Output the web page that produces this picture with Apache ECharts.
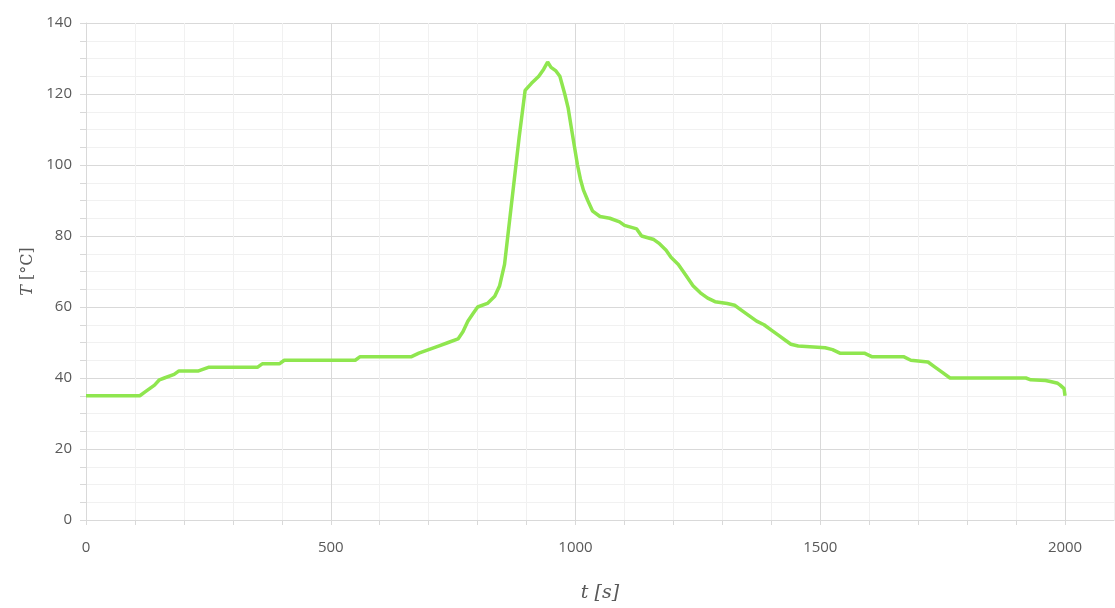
<!DOCTYPE html>
<html>
<head>
<meta charset="utf-8">
<script src="https://cdn.jsdelivr.net/npm/echarts@6/dist/echarts.min.js"></script>
<style>
  html, body { margin: 0; padding: 0; background: #fff; }
  #chart { width: 1115px; height: 608px; }
</style>
</head>
<body>
<div id="chart"></div>
<script>
// time [s]
var times = [
  0, 110, 120, 140, 150, 160, 180, 190, 230, 250,
  350, 360, 395, 405, 550, 560, 665, 680, 700, 720,
  740, 760, 770, 780, 790, 800, 820, 835, 845, 855,
  870, 885, 897, 910, 925, 935, 943, 950, 960, 968,
  978, 985, 992, 998, 1004, 1010, 1016, 1025, 1035, 1050,
  1070, 1090, 1100, 1125, 1135, 1160, 1170, 1185, 1195, 1210,
  1225, 1240, 1255, 1270, 1285, 1310, 1325, 1340, 1355, 1370,
  1385, 1400, 1415, 1430, 1440, 1455, 1510, 1525, 1540, 1590,
  1605, 1670, 1685, 1720, 1735, 1750, 1765, 1920, 1930, 1960,
  1970, 1985, 1990, 1998, 2000
];
// temperature [°C]
var temps = [
  35, 35, 36, 38, 39.5, 40, 41, 42, 42, 43,
  43, 44, 44, 45, 45, 46, 46, 47, 48, 49,
  50, 51, 53, 56, 58, 60, 61, 63, 66, 72,
  90, 108, 121, 123, 125, 127, 129, 127.5, 126.5, 125,
  120, 116, 110, 105, 100, 96, 93, 90, 87, 85.5,
  85, 84, 83, 82, 80, 79, 78, 76, 74, 72,
  69, 66, 64, 62.5, 61.5, 61, 60.5, 59, 57.5, 56,
  55, 53.5, 52, 50.5, 49.5, 49, 48.5, 48, 47, 47,
  46, 46, 45, 44.5, 43, 41.5, 40, 40, 39.5, 39.3,
  39, 38.5, 38, 37, 35
];

var chart = echarts.init(document.getElementById('chart'));
var major = '#d9d9d9', minor = '#f1f1f1';
var labelStyle = { color: '#595959', fontFamily: 'Open Sans', fontSize: 15 };

chart.setOption({
  animation: false,
  grid: { left: 86, right: 1, top: 23, bottom: 79 },
  xAxis: {
    type: 'value',
    min: 0, max: 2100, interval: 100,
    name: 't [s]',
    nameLocation: 'middle',
    nameGap: 64,
    nameTextStyle: { color: '#595959', fontFamily: 'DejaVu Serif', fontStyle: 'italic', fontSize: 19 },
    axisLine: { lineStyle: { color: major } },
    axisTick: { length: 5, lineStyle: { color: major } },
    axisLabel: Object.assign({
      margin: 20,
      showMaxLabel: false,
      formatter: function (v) { return v % 500 === 0 ? String(v) : ''; }
    }, labelStyle),
    splitLine: { lineStyle: { color: [major, minor, minor, minor, minor] } }
  },
  yAxis: {
    type: 'value',
    min: 0, max: 140, interval: 5,
    name: '{i|T} [°C]',
    nameLocation: 'middle',
    nameGap: 48,
    nameTextStyle: {
      color: '#595959', fontFamily: 'DejaVu Serif', fontSize: 16,
      rich: { i: { fontFamily: 'DejaVu Serif', fontStyle: 'italic', fontSize: 16, color: '#595959' } }
    },
    axisLine: { show: true, lineStyle: { color: major } },
    axisTick: { show: true, length: 6, lineStyle: { color: major } },
    axisLabel: Object.assign({
      margin: 14,
      formatter: function (v) { return v % 20 === 0 ? String(v) : ''; }
    }, labelStyle),
    splitLine: { lineStyle: { color: [major, minor, minor, minor] } }
  },
  series: [{
    type: 'line',
    data: times.map(function (t, i) { return [t, temps[i]]; }),
    showSymbol: false,
    lineStyle: { color: '#8fe64f', width: 3.5 },
    itemStyle: { color: '#8fe64f' }
  }]
});
</script>
</body>
</html>
